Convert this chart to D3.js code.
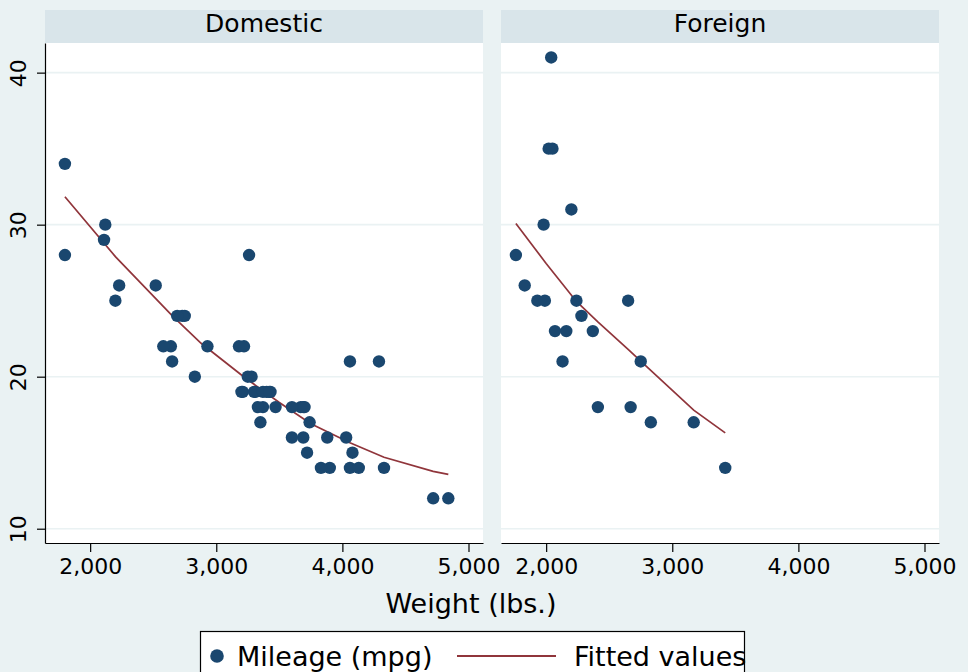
<!DOCTYPE html>
<html>
<head>
	<title>Mileage by weight</title>
	<meta charset="utf-8">
	<script type="text/javascript" src="https://cdn.jsdelivr.net/npm/d3@7/dist/d3.min.js"></script>
	<style>
		html, body { margin: 0; padding: 0; background: #eaf2f3; }
		#chart { display: block; font-family: "DejaVu Sans", sans-serif; }
	</style>
</head>
<body>
	<svg id="chart" width="968" height="672"></svg>
	<script type="text/javascript">
		// auto data, split by origin
		const domesticWeight = [2930, 3350, 2640, 3250, 4080, 3670, 2230, 3280, 3880, 3400, 4330, 3900, 4290, 2110, 3690, 3180, 3220, 2750, 3430, 2120, 3600, 3600, 3740, 1800, 2650, 4840, 4720, 3830, 2580, 4060, 3720, 3370, 4130, 2830, 4060, 3310, 3300, 3690, 3370, 2730, 4030, 3260, 1800, 2200, 2520, 3330, 3700, 3470, 3210, 3200, 3420, 2690];
		const domesticMpg = [22, 17, 22, 20, 15, 18, 26, 20, 16, 19, 14, 14, 21, 29, 16, 22, 22, 24, 19, 30, 18, 16, 17, 28, 21, 12, 12, 14, 22, 14, 15, 18, 14, 20, 21, 19, 19, 18, 19, 24, 16, 28, 34, 25, 26, 18, 18, 18, 19, 19, 19, 24];
		const foreignWeight = [2830, 2070, 2650, 2370, 2020, 2280, 2750, 2130, 2240, 1760, 1980, 3420, 1830, 2050, 2410, 2200, 2670, 2160, 2040, 1930, 1990, 3170];
		const foreignMpg = [17, 23, 25, 23, 35, 24, 21, 21, 25, 28, 30, 14, 26, 35, 18, 31, 18, 23, 41, 25, 25, 17];

		// fitted values
		const domesticFitWeight = [1800, 2200, 2650, 2880, 3220, 3500, 3750, 4060, 4330, 4720, 4840];
		const domesticFitMpg = [31.84, 27.9, 24.02, 22.2, 19.98, 18.3, 16.9, 15.65, 14.7, 13.77, 13.57];
		const foreignFitWeight = [1760, 2000, 2240, 2410, 2650, 2750, 3170, 3420];
		const foreignFitMpg = [30.07, 27.45, 24.95, 23.6, 21.8, 21.03, 17.8, 16.3];

		const panelTitles = ["Domestic", "Foreign"];
		const xTicks = [2000, 3000, 4000, 5000];
		const yTicks = [10, 20, 30, 40];

		const navy = "#1a476f";
		const maroon = "#90353b";

		const svg = d3.select("#chart");
		svg.append("rect")
			.attr("width", 968).attr("height", 672)
			.attr("fill", "#eaf2f3");

		const plotTop = 43, plotBottom = 543, panelW = 438;
		const y = d3.scaleLinear().domain([9.06, 41.95]).range([plotBottom, plotTop]);

		const panels = [
			{ title: panelTitles[0], left: 45, w: domesticWeight, m: domesticMpg, fw: domesticFitWeight, fm: domesticFitMpg },
			{ title: panelTitles[1], left: 501, w: foreignWeight, m: foreignMpg, fw: foreignFitWeight, fm: foreignFitMpg }
		];

		panels.forEach((p, idx) => {
			const x = d3.scaleLinear().domain([1642, 5115]).range([p.left, p.left + panelW]);

			// header strip
			svg.append("rect")
				.attr("x", p.left).attr("y", 10)
				.attr("width", panelW).attr("height", plotTop - 10)
				.attr("fill", "#d9e5ea");
			svg.append("text")
				.attr("x", p.left + panelW / 2).attr("y", 32)
				.attr("text-anchor", "middle")
				.style("font-size", "25px")
				.text(p.title);

			// plot region
			svg.append("rect")
				.attr("x", p.left).attr("y", plotTop)
				.attr("width", panelW).attr("height", plotBottom - plotTop)
				.attr("fill", "#fff");

			svg.append("g")
				.selectAll("line")
				.data(yTicks)
				.enter()
				.append("line")
				.attr("x1", p.left).attr("x2", p.left + panelW)
				.attr("y1", d => y(d)).attr("y2", d => y(d))
				.attr("stroke", "#eaf2f3")
				.attr("stroke-width", 1.6);

			// fitted line
			const fit = p.fw.map((d, i) => ({ w: d, m: p.fm[i] }));
			const createLine = d3.line()
				.x(d => x(d.w))
				.y(d => y(d.m));
			svg.append("path")
				.attr("d", createLine(fit))
				.attr("fill", "none")
				.attr("stroke", maroon)
				.attr("stroke-width", 1.7);

			// points
			svg.append("g")
				.selectAll("circle")
				.data(p.w.map((d, i) => ({ w: d, m: p.m[i] })))
				.enter()
				.append("circle")
				.attr("cx", d => x(d.w))
				.attr("cy", d => y(d.m))
				.attr("r", 6.2)
				.attr("fill", navy);

			// x axis
			const gx = svg.append("g")
				.attr("transform", "translate(0," + plotBottom + ")")
				.call(d3.axisBottom(x).tickValues(xTicks).tickFormat(d3.format(","))
					.tickSize(9).tickSizeOuter(0).tickPadding(6));
			gx.selectAll("text")
				.style("font-size", "22px")
				.style("font-family", "DejaVu Sans")
				.attr("fill", "#000");
			gx.selectAll("path, line").attr("stroke", "#000").attr("stroke-width", 1.2);

			// y axis only on the first panel
			if (idx === 0) {
				const gy = svg.append("g")
					.attr("transform", "translate(" + p.left + ",0)")
					.call(d3.axisLeft(y).tickValues(yTicks).tickSize(8).tickSizeOuter(0));
				gy.selectAll("text")
					.attr("x", 0)
					.attr("y", -19)
					.attr("dy", 0)
					.attr("transform", "rotate(-90)")
					.attr("text-anchor", "middle")
					.attr("fill", "#000")
					.style("font-size", "22px")
					.style("font-family", "DejaVu Sans");
				gy.selectAll("path, line").attr("stroke", "#000").attr("stroke-width", 1.2);
			}
		});

		svg.append("text")
			.attr("x", 471).attr("y", 613)
			.attr("text-anchor", "middle")
			.style("font-size", "27px")
			.text("Weight (lbs.)");

		// legend
		const legend = svg.append("g");
		legend.append("rect")
			.attr("x", 200.5).attr("y", 631.5)
			.attr("width", 544).attr("height", 60)
			.attr("fill", "#fff")
			.attr("stroke", "#000")
			.attr("stroke-width", 1.2);
		legend.append("circle")
			.attr("cx", 217).attr("cy", 656)
			.attr("r", 6.8)
			.attr("fill", navy);
		legend.append("text")
			.attr("x", 237).attr("y", 666)
			.style("font-size", "27px")
			.text("Mileage (mpg)");
		legend.append("line")
			.attr("x1", 457).attr("x2", 556)
			.attr("y1", 656).attr("y2", 656)
			.attr("stroke", maroon)
			.attr("stroke-width", 1.8);
		legend.append("text")
			.attr("x", 574).attr("y", 666)
			.style("font-size", "27px")
			.text("Fitted values");
	</script>
</body>
</html>
